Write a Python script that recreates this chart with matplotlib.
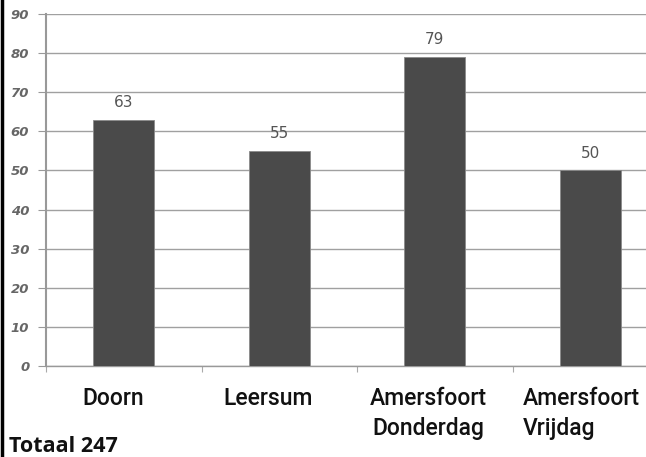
import matplotlib
matplotlib.use("Agg")
import matplotlib.pyplot as plt
from matplotlib.lines import Line2D

categories = ["Doorn", "Leersum", "Amersfoort\nDonderdag", "Amersfoort\nVrijdag"]
values = [63, 55, 79, 50]
yticks = [0, 10, 20, 30, 40, 50, 60, 70, 80, 90]
total_label = "Totaal 247"

W, H = 646, 457
fig = plt.figure(figsize=(W / 100, H / 100), dpi=100)
left_px, right_px = 46, 646
top_px, bottom_px = 14, 366
ax = fig.add_axes([left_px / W, 1 - bottom_px / H, (right_px - left_px) / W, (bottom_px - top_px) / H])

cat_w = 155.5
xs = list(range(len(values)))
ax.set_xlim(-0.5, -0.5 + (right_px - left_px) / cat_w)
ax.set_ylim(0, 90)

ax.bar(xs, values, width=0.39, color="#4a4a4a", edgecolor="#8a8a8a", linewidth=0.6, zorder=3)

ax.set_yticks(yticks)
ax.set_yticklabels([str(t) for t in yticks], fontsize=9.5, color="#666666",
                   fontweight="bold", fontstyle="italic")
ax.tick_params(axis="y", length=6, color="#999999", pad=6)
ax.set_xticks([-0.5, 0.5, 1.5, 2.5])
ax.set_xticklabels([])
ax.tick_params(axis="x", length=4, color="#aaaaaa", direction="out")
ax.grid(axis="y", color="#a0a0a0", linewidth=1.0, zorder=0)
for s in ["top", "right"]:
    ax.spines[s].set_visible(False)
ax.spines["left"].set_color("#999999")
ax.spines["left"].set_linewidth(1.5)
ax.spines["bottom"].set_color("#999999")
ax.spines["bottom"].set_linewidth(1.0)

for x, v in zip(xs, values):
    ax.annotate(str(v), (x, v), xytext=(0, 7), textcoords="offset points",
                ha="center", va="bottom", fontsize=11, color="#555555")

fam = ["Roboto", "DejaVu Sans"]
# category labels (placed manually as in the reference)
lbl_pos = [(113, "center"), (268, "center"), (428, "center"), (523, "left")]
for (px, ha), lab in zip(lbl_pos, categories):
    fig.text(px / W, 1 - 387 / H, lab, ha=ha, va="top", fontsize=16.5,
             family=fam, fontweight="medium", color="#111111", linespacing=1.38,
             multialignment="left" if ha == "left" else "center")

fig.text(9 / W, 1 - 452 / H, total_label, ha="left", va="baseline", fontsize=15.5,
         fontweight="bold", family=["Open Sans", "DejaVu Sans"], color="#111111")

fig.add_artist(Line2D([1.5 / W, 1.5 / W], [0, 1], color="black", linewidth=2.5,
                      transform=fig.transFigure))

fig.savefig("out.png", dpi=100)
